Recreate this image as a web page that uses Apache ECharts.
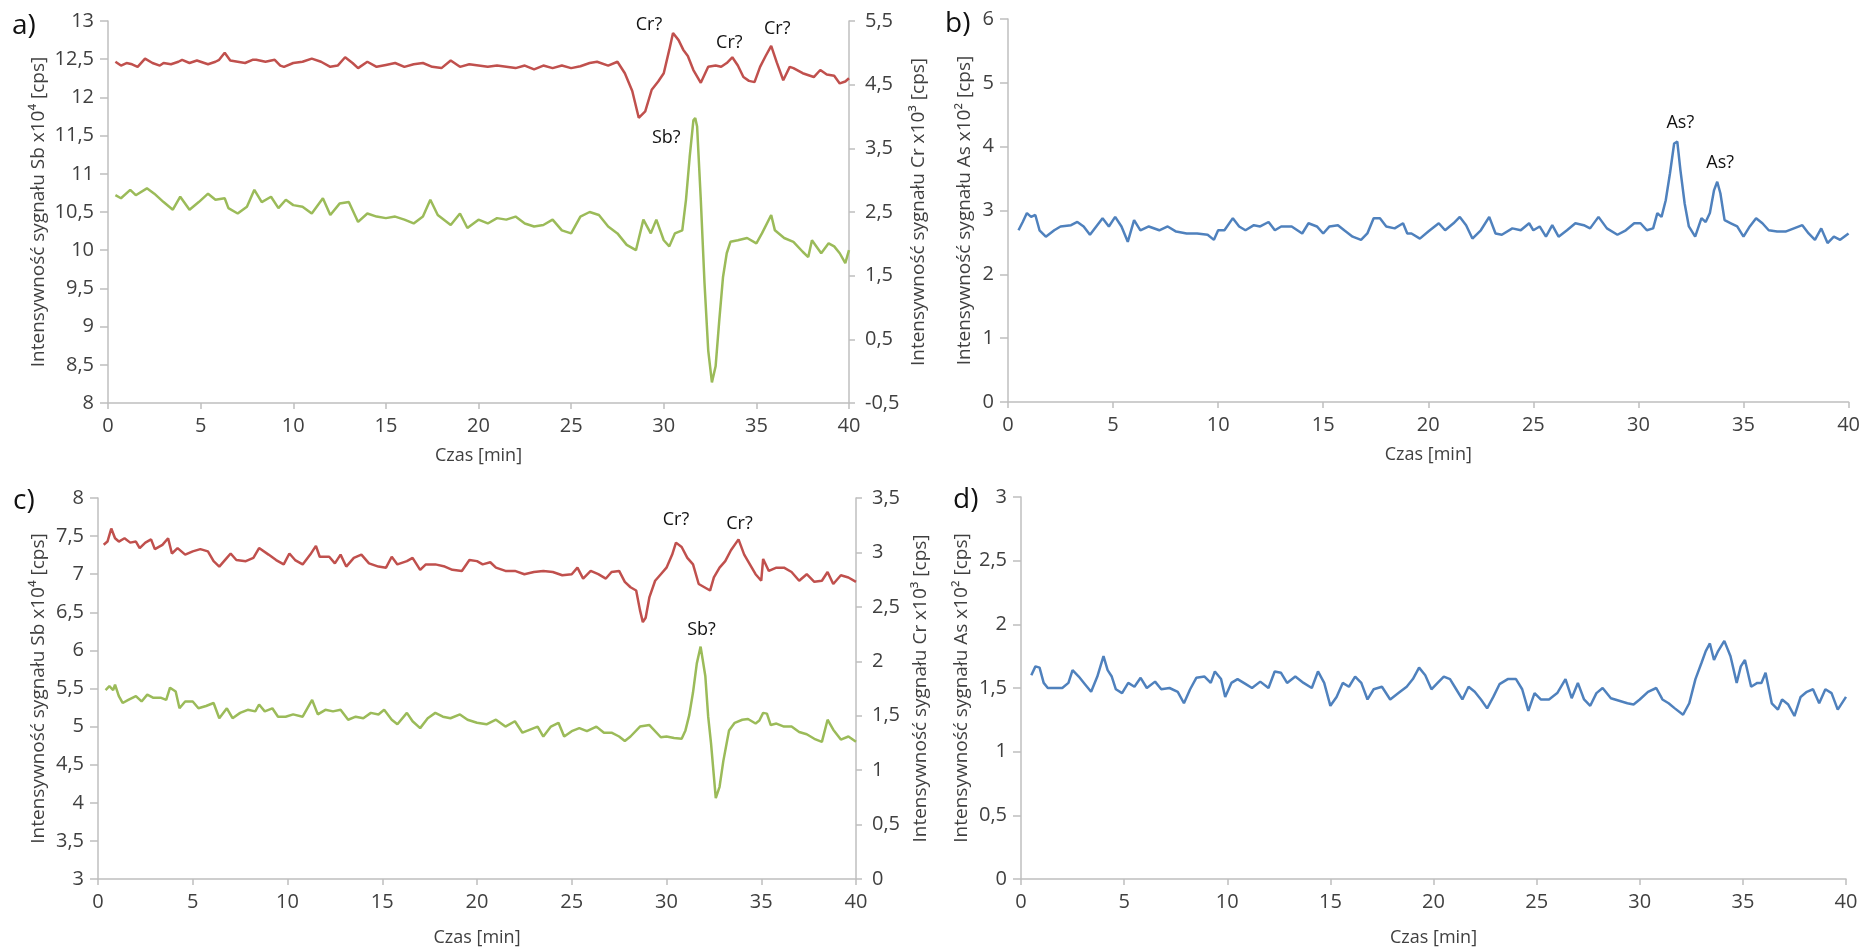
<!DOCTYPE html>
<html><head><meta charset="utf-8">
<script src="https://cdn.jsdelivr.net/npm/echarts@6/dist/echarts.min.js"></script>
<style>html,body{margin:0;padding:0;background:#fff}#c{width:1863px;height:952px}</style>
</head><body><div id="c"></div>
<script>
// ---- DATA: [time (min), signal] ----
// Panel a) Cr (right axis, x10^3 cps)
const aCr = [[0.4,4.86],[0.7,4.80],[1.0,4.84],[1.3,4.82],[1.6,4.78],[2.0,4.91],[2.4,4.84],[2.8,4.80],[3.0,4.84],[3.4,4.82],[3.8,4.86],[4.0,4.89],[4.4,4.84],[4.8,4.88],[5.0,4.86],[5.4,4.82],[5.8,4.86],[6.0,4.89],[6.3,5.00],[6.6,4.88],[7.0,4.86],[7.4,4.84],[7.8,4.89],[8.0,4.89],[8.5,4.86],[9.0,4.89],[9.3,4.80],[9.5,4.78],[10.0,4.84],[10.5,4.86],[11.0,4.91],[11.5,4.86],[12.0,4.78],[12.4,4.80],[12.8,4.93],[13.2,4.84],[13.5,4.76],[14.0,4.86],[14.5,4.78],[15.0,4.81],[15.5,4.84],[16.0,4.78],[16.5,4.82],[17.0,4.84],[17.5,4.78],[18.0,4.76],[18.5,4.88],[19.0,4.78],[19.5,4.82],[20.0,4.80],[20.5,4.78],[21.0,4.80],[21.5,4.78],[22.0,4.76],[22.5,4.80],[23.0,4.74],[23.5,4.80],[24.0,4.76],[24.5,4.80],[25.0,4.76],[25.5,4.79],[26.0,4.84],[26.4,4.86],[27.0,4.80],[27.5,4.86],[27.9,4.68],[28.3,4.40],[28.65,3.98],[29.0,4.08],[29.35,4.42],[29.7,4.55],[30.0,4.68],[30.3,5.05],[30.5,5.31],[30.8,5.20],[31.05,5.05],[31.3,4.95],[31.6,4.73],[32.0,4.53],[32.4,4.78],[32.8,4.80],[33.1,4.78],[33.4,4.84],[33.7,4.93],[34.0,4.80],[34.3,4.62],[34.6,4.56],[34.9,4.54],[35.2,4.78],[35.5,4.95],[35.8,5.11],[36.1,4.85],[36.45,4.57],[36.8,4.78],[37.0,4.76],[37.5,4.68],[38.1,4.62],[38.45,4.73],[38.8,4.66],[39.2,4.64],[39.5,4.52],[39.8,4.55],[40.0,4.60]];
// Panel a) Sb (left axis, x10^4 cps)
const aSb = [[0.4,10.72],[0.7,10.68],[1.2,10.79],[1.5,10.72],[2.1,10.81],[2.5,10.74],[3.0,10.63],[3.5,10.53],[3.9,10.70],[4.4,10.53],[4.9,10.63],[5.4,10.74],[5.8,10.66],[6.3,10.68],[6.5,10.55],[7.0,10.48],[7.5,10.57],[7.9,10.79],[8.3,10.63],[8.8,10.70],[9.2,10.55],[9.6,10.66],[10.0,10.59],[10.5,10.57],[11.0,10.48],[11.6,10.68],[12.0,10.46],[12.5,10.61],[13.0,10.63],[13.5,10.37],[14.0,10.48],[14.5,10.44],[15.0,10.42],[15.5,10.44],[16.0,10.40],[16.5,10.35],[17.0,10.44],[17.4,10.66],[17.8,10.46],[18.5,10.33],[19.0,10.48],[19.4,10.29],[20.0,10.40],[20.5,10.35],[21.0,10.42],[21.5,10.40],[22.0,10.44],[22.5,10.35],[23.0,10.31],[23.5,10.33],[24.0,10.40],[24.5,10.26],[25.0,10.22],[25.5,10.44],[26.0,10.50],[26.5,10.46],[27.0,10.31],[27.5,10.22],[28.0,10.07],[28.5,10.00],[28.9,10.40],[29.3,10.22],[29.6,10.40],[30.0,10.13],[30.3,10.05],[30.6,10.22],[31.0,10.26],[31.2,10.66],[31.4,11.22],[31.6,11.70],[31.7,11.73],[31.8,11.62],[32.0,10.66],[32.2,9.57],[32.4,8.69],[32.6,8.27],[32.8,8.48],[33.0,9.09],[33.2,9.65],[33.4,9.96],[33.6,10.11],[34.0,10.13],[34.5,10.16],[35.0,10.09],[35.3,10.22],[35.8,10.46],[36.0,10.26],[36.5,10.16],[37.0,10.11],[37.5,9.98],[37.8,9.91],[38.0,10.13],[38.5,9.96],[38.9,10.09],[39.2,10.05],[39.5,9.96],[39.8,9.83],[40.0,10.00]];
// Panel b) As (x10^2 cps)
const bAs = [[0.5,2.69],[0.7,2.82],[0.9,2.96],[1.1,2.90],[1.3,2.93],[1.5,2.69],[1.8,2.59],[2.2,2.69],[2.5,2.75],[3.0,2.77],[3.3,2.82],[3.6,2.75],[3.9,2.62],[4.2,2.75],[4.5,2.88],[4.8,2.75],[5.1,2.90],[5.4,2.75],[5.7,2.51],[6.0,2.85],[6.3,2.69],[6.7,2.75],[7.2,2.69],[7.6,2.75],[8.0,2.67],[8.5,2.64],[9.0,2.64],[9.5,2.62],[9.8,2.54],[10.0,2.69],[10.3,2.69],[10.7,2.88],[11.0,2.75],[11.3,2.69],[11.7,2.77],[12.0,2.75],[12.4,2.82],[12.7,2.69],[13.0,2.75],[13.5,2.75],[14.0,2.64],[14.3,2.80],[14.7,2.75],[15.0,2.64],[15.3,2.75],[15.7,2.77],[16.0,2.69],[16.4,2.59],[16.8,2.54],[17.1,2.64],[17.4,2.88],[17.7,2.88],[18.0,2.75],[18.4,2.72],[18.8,2.80],[19.0,2.64],[19.2,2.64],[19.6,2.56],[20.0,2.67],[20.5,2.80],[20.8,2.69],[21.2,2.80],[21.5,2.90],[21.8,2.77],[22.1,2.56],[22.5,2.69],[22.9,2.90],[23.2,2.64],[23.5,2.62],[24.0,2.72],[24.4,2.69],[24.8,2.80],[25.0,2.69],[25.3,2.75],[25.6,2.59],[25.9,2.77],[26.2,2.59],[26.6,2.69],[27.0,2.80],[27.4,2.77],[27.7,2.72],[28.1,2.90],[28.5,2.72],[29.0,2.62],[29.4,2.69],[29.8,2.80],[30.1,2.80],[30.4,2.69],[30.7,2.72],[30.9,2.96],[31.1,2.90],[31.3,3.16],[31.5,3.58],[31.7,4.05],[31.85,4.08],[32.0,3.63],[32.2,3.11],[32.4,2.75],[32.7,2.59],[33.0,2.88],[33.2,2.82],[33.4,2.96],[33.6,3.32],[33.75,3.45],[33.9,3.27],[34.1,2.85],[34.4,2.80],[34.7,2.75],[35.0,2.59],[35.3,2.75],[35.6,2.88],[35.9,2.80],[36.2,2.69],[36.6,2.67],[37.0,2.67],[37.4,2.72],[37.8,2.77],[38.1,2.64],[38.4,2.54],[38.7,2.72],[39.0,2.49],[39.3,2.59],[39.6,2.54],[40.0,2.64]];
// Panel c) Cr (right axis, x10^3 cps)
const cCr = [[0.3,3.07],[0.5,3.10],[0.7,3.22],[0.9,3.13],[1.1,3.10],[1.4,3.13],[1.7,3.09],[2.0,3.10],[2.2,3.04],[2.5,3.09],[2.8,3.12],[3.0,3.03],[3.4,3.07],[3.7,3.13],[3.9,2.99],[4.2,3.04],[4.6,2.98],[5.0,3.01],[5.4,3.03],[5.8,3.01],[6.1,2.92],[6.4,2.87],[6.8,2.95],[7.0,2.99],[7.3,2.93],[7.8,2.92],[8.2,2.95],[8.5,3.04],[9.0,2.98],[9.4,2.93],[9.8,2.89],[10.1,2.99],[10.4,2.93],[10.8,2.89],[11.2,2.98],[11.5,3.06],[11.7,2.96],[12.2,2.96],[12.5,2.90],[12.8,2.98],[13.1,2.87],[13.5,2.95],[13.9,2.98],[14.3,2.90],[14.8,2.87],[15.2,2.86],[15.5,2.96],[15.8,2.89],[16.3,2.92],[16.6,2.95],[17.0,2.84],[17.3,2.89],[17.8,2.89],[18.3,2.87],[18.7,2.84],[19.2,2.83],[19.6,2.93],[20.0,2.92],[20.3,2.89],[20.7,2.91],[21.0,2.86],[21.5,2.83],[22.0,2.83],[22.5,2.80],[23.0,2.82],[23.5,2.83],[24.0,2.82],[24.5,2.79],[25.0,2.80],[25.3,2.86],[25.6,2.76],[26.0,2.83],[26.4,2.80],[26.8,2.76],[27.1,2.82],[27.5,2.83],[27.8,2.73],[28.1,2.68],[28.4,2.65],[28.6,2.47],[28.75,2.36],[28.9,2.40],[29.1,2.59],[29.4,2.74],[29.7,2.80],[30.0,2.86],[30.3,2.98],[30.5,3.09],[30.8,3.05],[31.1,2.95],[31.4,2.89],[31.7,2.71],[32.0,2.68],[32.3,2.65],[32.5,2.77],[32.8,2.86],[33.1,2.92],[33.4,3.02],[33.8,3.12],[34.1,2.98],[34.4,2.89],[34.7,2.80],[35.0,2.74],[35.1,2.94],[35.4,2.83],[35.8,2.86],[36.2,2.86],[36.6,2.82],[37.0,2.74],[37.4,2.80],[37.8,2.73],[38.2,2.74],[38.5,2.82],[38.8,2.71],[39.2,2.79],[39.6,2.77],[40.0,2.73]];
// Panel c) Sb (left axis, x10^4 cps)
const cSb = [[0.4,5.48],[0.6,5.53],[0.8,5.48],[0.9,5.55],[1.1,5.40],[1.3,5.31],[1.6,5.35],[2.0,5.40],[2.3,5.33],[2.6,5.42],[2.9,5.38],[3.3,5.38],[3.6,5.35],[3.8,5.51],[4.1,5.46],[4.3,5.24],[4.6,5.33],[5.0,5.33],[5.3,5.24],[5.7,5.27],[6.1,5.31],[6.4,5.11],[6.8,5.24],[7.1,5.11],[7.5,5.18],[7.9,5.22],[8.3,5.20],[8.5,5.29],[8.8,5.20],[9.2,5.24],[9.5,5.13],[9.9,5.13],[10.3,5.16],[10.8,5.13],[11.3,5.35],[11.6,5.16],[12.0,5.22],[12.4,5.20],[12.8,5.22],[13.2,5.09],[13.6,5.13],[14.0,5.11],[14.4,5.18],[14.8,5.16],[15.1,5.22],[15.5,5.09],[15.8,5.03],[16.3,5.18],[16.6,5.07],[17.0,4.98],[17.4,5.11],[17.8,5.18],[18.2,5.13],[18.6,5.11],[19.1,5.16],[19.5,5.09],[20.0,5.05],[20.5,5.03],[21.0,5.09],[21.5,5.00],[22.0,5.07],[22.4,4.92],[22.8,4.96],[23.2,5.00],[23.5,4.87],[23.9,5.00],[24.3,5.05],[24.6,4.87],[25.0,4.94],[25.4,4.98],[25.8,4.94],[26.3,5.00],[26.7,4.92],[27.1,4.92],[27.5,4.87],[27.8,4.81],[28.1,4.87],[28.6,5.00],[29.1,5.02],[29.7,4.86],[30.0,4.87],[30.4,4.85],[30.8,4.84],[31.0,4.95],[31.2,5.15],[31.4,5.45],[31.6,5.83],[31.8,6.05],[31.9,6.03],[32.05,5.66],[32.2,5.13],[32.35,4.78],[32.6,4.06],[32.8,4.21],[33.0,4.55],[33.3,4.95],[33.6,5.05],[34.0,5.09],[34.3,5.10],[34.7,5.04],[34.9,5.08],[35.1,5.18],[35.3,5.17],[35.5,5.02],[35.8,5.04],[36.2,5.00],[36.6,5.00],[37.0,4.93],[37.4,4.90],[37.8,4.84],[38.2,4.80],[38.5,5.09],[38.8,4.96],[39.2,4.83],[39.6,4.87],[40.0,4.80]];
// Panel d) As (x10^2 cps)
const dAs = [[0.5,1.60],[0.7,1.67],[0.9,1.66],[1.1,1.54],[1.3,1.50],[1.6,1.50],[2.0,1.50],[2.3,1.54],[2.5,1.64],[2.8,1.59],[3.1,1.53],[3.4,1.47],[3.7,1.59],[4.0,1.75],[4.2,1.64],[4.4,1.59],[4.6,1.49],[4.9,1.46],[5.2,1.54],[5.5,1.51],[5.8,1.58],[6.1,1.50],[6.5,1.55],[6.8,1.49],[7.2,1.50],[7.6,1.47],[7.9,1.38],[8.2,1.49],[8.5,1.58],[8.9,1.59],[9.2,1.54],[9.4,1.63],[9.7,1.57],[9.9,1.43],[10.2,1.54],[10.5,1.57],[10.9,1.53],[11.2,1.50],[11.6,1.55],[12.0,1.50],[12.3,1.63],[12.6,1.62],[12.9,1.54],[13.3,1.59],[13.7,1.54],[14.1,1.50],[14.4,1.63],[14.7,1.54],[15.0,1.36],[15.3,1.43],[15.6,1.54],[15.9,1.51],[16.2,1.59],[16.5,1.54],[16.8,1.41],[17.1,1.49],[17.5,1.51],[17.9,1.41],[18.3,1.46],[18.7,1.51],[19.0,1.57],[19.3,1.66],[19.6,1.60],[19.9,1.49],[20.2,1.54],[20.5,1.59],[20.8,1.57],[21.1,1.49],[21.4,1.41],[21.7,1.51],[22.0,1.47],[22.3,1.41],[22.6,1.34],[22.9,1.43],[23.2,1.53],[23.6,1.57],[24.0,1.57],[24.3,1.49],[24.6,1.32],[24.9,1.46],[25.2,1.41],[25.6,1.41],[26.0,1.46],[26.4,1.57],[26.7,1.42],[27.0,1.54],[27.3,1.41],[27.6,1.36],[27.9,1.46],[28.2,1.50],[28.6,1.42],[29.0,1.40],[29.4,1.38],[29.7,1.37],[30.0,1.41],[30.4,1.47],[30.8,1.50],[31.1,1.41],[31.4,1.38],[31.7,1.34],[32.1,1.29],[32.4,1.38],[32.7,1.57],[33.0,1.70],[33.2,1.79],[33.4,1.85],[33.6,1.72],[33.8,1.79],[34.1,1.87],[34.4,1.75],[34.7,1.54],[34.9,1.67],[35.1,1.72],[35.4,1.51],[35.7,1.54],[35.9,1.54],[36.1,1.62],[36.4,1.38],[36.7,1.33],[36.9,1.41],[37.2,1.37],[37.5,1.28],[37.8,1.43],[38.1,1.47],[38.4,1.49],[38.7,1.38],[39.0,1.49],[39.3,1.46],[39.6,1.33],[40.0,1.43]];

// Tick labels for the right axis of panel a)
const aRightTicks = [-0.5, 0.5, 1.5, 2.5, 3.5, 4.5, 5.5];

// Peak annotations: [label, time, value]
const aCrPeaks = [['Cr?', 30.5, 5.31], ['Cr?', 33.7, 4.93], ['Cr?', 35.8, 5.11]];
const aSbPeaks = [['Sb?', 31.7, 11.73]];
const bAsPeaks = [['As?', 31.85, 4.08], ['As?', 33.75, 3.45]];
const cCrPeaks = [['Cr?', 30.5, 3.09], ['Cr?', 33.8, 3.12]];
const cSbPeaks = [['Sb?', 31.85, 6.05]];

// ---- CHART ----
const FONT = '"Open Sans", "DejaVu Sans", sans-serif';
const AX = '#bfbfbf', TXT = '#404040';
const RED = '#c0504d', GREEN = '#9bbb59', BLUE = '#4f81bd';
const fmt = v => String(Math.round(v * 100) / 100).replace('.', ',');

const grids = [
  {left: 108, top: 21, width: 741, height: 382},
  {left: 1008, top: 19, width: 842, height: 383},
  {left: 98, top: 498, width: 758, height: 381},
  {left: 1021, top: 497, width: 825, height: 382}
];

function xAx(g, gap) {
  return {
    type: 'value', gridIndex: g, min: 0, max: 40, interval: 5,
    name: 'Czas [min]', nameLocation: 'middle', nameGap: gap,
    nameTextStyle: {fontFamily: FONT, fontSize: 18, color: TXT},
    axisLine: {show: true, onZero: false, lineStyle: {color: AX, width: 1.5}},
    axisTick: {show: true, length: 6, lineStyle: {color: AX, width: 1.5}},
    axisLabel: {fontFamily: FONT, fontSize: 20, color: TXT, margin: 13, formatter: fmt},
    splitLine: {show: false}
  };
}
function yAx(g, pos, min, max, interval, name, gap, margin, custom) {
  const o = {
    type: 'value', gridIndex: g, position: pos, min: min, max: max, interval: interval,
    name: name, nameLocation: 'middle', nameGap: gap, nameRotate: 90,
    nameTextStyle: {fontFamily: FONT, fontSize: 19, color: TXT},
    axisLine: {show: true, onZero: false, lineStyle: {color: AX, width: 1.5}},
    axisTick: {show: true, length: pos === 'left' ? 8 : 6, lineStyle: {color: AX, width: 1.5}},
    axisLabel: {fontFamily: FONT, fontSize: 20, color: TXT, margin: margin, formatter: fmt},
    splitLine: {show: false}
  };
  if (custom) {
    o.axisLabel.customValues = custom;
    o.axisTick.customValues = custom;
  }
  return o;
}

function peaks(list, offsets) {
  return {
    symbol: 'circle', symbolSize: 1,
    itemStyle: {color: 'rgba(0,0,0,0)'},
    label: {show: true, position: 'inside', fontFamily: FONT, fontSize: 18, color: '#111', formatter: p => p.name},
    data: list.map((p, i) => ({name: p[0], coord: [p[1], p[2]], label: {offset: offsets[i]}}))
  };
}

function line(name, data, xi, yi, color, mp) {
  return {
    name: name, type: 'line', xAxisIndex: xi, yAxisIndex: yi, data: data,
    showSymbol: false, symbol: 'none', animation: false,
    lineStyle: {color: color, width: 2.5}, itemStyle: {color: color},
    markPoint: mp
  };
}

const option = {
  animation: false,
  backgroundColor: '#fff',
  grid: grids,
  xAxis: [xAx(0, 44), xAx(1, 44), xAx(2, 50), xAx(3, 50)],
  yAxis: [
    yAx(0, 'left', 8, 13, 0.5, 'Intensywność sygnału Sb x10⁴ [cps]', 60, 14),
    yAx(0, 'right', -0.5, 5.5, 0.5, 'Intensywność sygnału Cr x10³ [cps]', 60, 16, aRightTicks),
    yAx(1, 'left', 0, 6, 1, 'Intensywność sygnału As x10² [cps]', 34, 14),
    yAx(2, 'left', 3, 8, 0.5, 'Intensywność sygnału Sb x10⁴ [cps]', 50, 14),
    yAx(2, 'right', 0, 3.5, 0.5, 'Intensywność sygnału Cr x10³ [cps]', 55, 16),
    yAx(3, 'left', 0, 3, 0.5, 'Intensywność sygnału As x10² [cps]', 50, 14)
  ],
  series: [
    line('Cr a', aCr, 0, 1, RED, peaks(aCrPeaks, [[-24, -8], [-3, -14], [6, -17]])),
    line('Sb a', aSb, 0, 0, GREEN, peaks(aSbPeaks, [[-29, 20]])),
    line('As b', bAs, 1, 2, BLUE, peaks(bAsPeaks, [[3, -19], [3, -19]])),
    line('Cr c', cCr, 2, 4, RED, peaks(cCrPeaks, [[0, -23], [1, -15]])),
    line('Sb c', cSb, 2, 3, GREEN, peaks(cSbPeaks, [[0, -17]])),
    line('As d', dAs, 3, 5, BLUE, null)
  ],
  graphic: [
    {type: 'text', left: 12, top: 12, style: {text: 'a)', font: '28px "Open Sans"', fill: '#111'}},
    {type: 'text', left: 945, top: 10, style: {text: 'b)', font: '28px "Open Sans"', fill: '#111'}},
    {type: 'text', left: 13, top: 487, style: {text: 'c)', font: '28px "Open Sans"', fill: '#111'}},
    {type: 'text', left: 953, top: 486, style: {text: 'd)', font: '28px "Open Sans"', fill: '#111'}}
  ]
};

const chart = echarts.init(document.getElementById('c'), null, {renderer: 'canvas'});
chart.setOption(option);
</script>
</body></html>
